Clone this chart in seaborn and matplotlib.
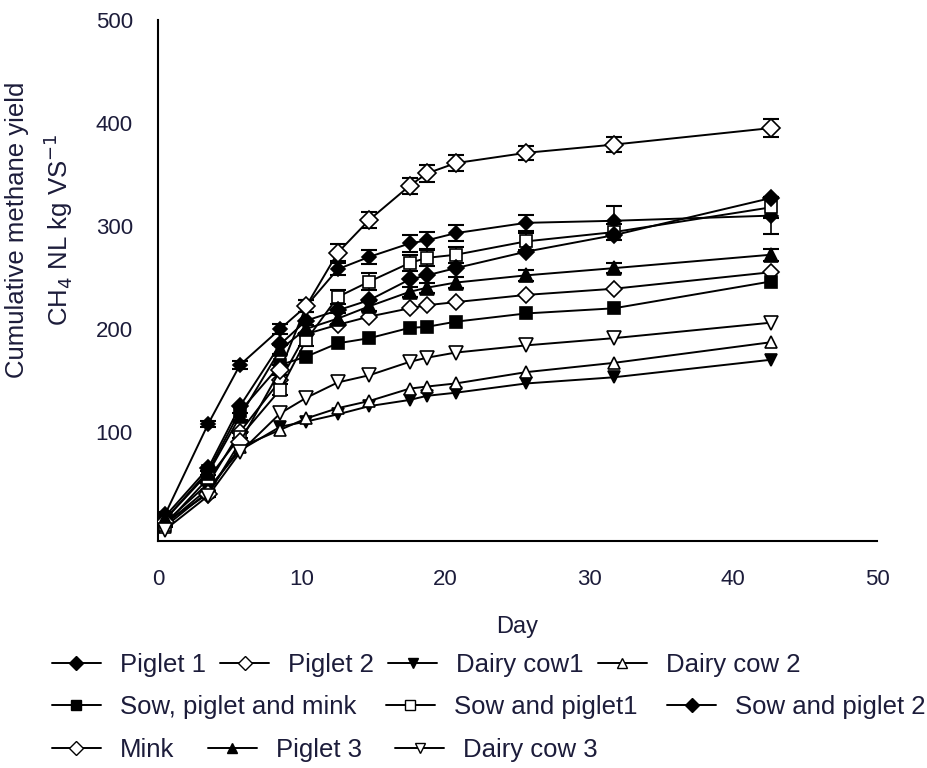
import matplotlib
matplotlib.use("Agg")
import matplotlib.pyplot as plt
from matplotlib.lines import Line2D
import seaborn as sns
import pandas as pd

sns.set_style("white")
plt.rcParams['font.family'] = ['Liberation Sans', 'DejaVu Sans']

days = [0.5, 3.5, 5.7, 8.5, 10.3, 12.5, 14.7, 17.5, 18.7, 20.7, 25.6, 31.7, 42.6]

piglet_1 = [20, 108, 165, 200, 222, 258, 270, 283, 286, 293, 303, 305, 310]
piglet_2 = [12, 50, 100, 150, 195, 204, 212, 220, 223, 226, 233, 239, 255]
dairy_cow_1 = [10, 45, 82, 105, 110, 117, 125, 131, 135, 138, 147, 153, 170]
dairy_cow_2 = [8, 42, 85, 102, 113, 123, 130, 142, 144, 147, 158, 167, 187]
sow_piglet_mink = [15, 62, 120, 165, 173, 186, 191, 201, 202, 207, 215, 220, 246]
sow_piglet_1 = [10, 55, 95, 141, 189, 231, 246, 264, 269, 272, 285, 294, 318]
sow_piglet_2 = [18, 65, 125, 185, 208, 218, 228, 248, 252, 259, 275, 291, 327]
mink = [12, 40, 90, 160, 222, 274, 306, 339, 351, 361, 371, 379, 395]
piglet_3 = [15, 60, 115, 180, 200, 210, 222, 236, 240, 245, 252, 259, 272]
dairy_cow_3 = [5, 38, 80, 118, 133, 148, 155, 168, 172, 177, 184, 191, 206]

mink_err = [2, 3, 4, 5, 6, 8, 8, 8, 8, 8, 7, 7, 9]
piglet_1_err = [2, 3, 4, 5, 6, 6, 7, 8, 8, 8, 8, 14, 18]
sow_piglet_1_err = [2, 3, 4, 5, 6, 7, 8, 8, 8, 8, 8, 8, 10]
piglet_3_err = [2, 2, 3, 4, 4, 5, 5, 5, 5, 5, 5, 5, 6]

labels = ["Piglet 1", "Piglet 2", "Dairy cow1", "Dairy cow 2",
          "Sow, piglet and mink", "Sow and piglet1", "Sow and piglet 2",
          "Mink", "Piglet 3", "Dairy cow 3"]
values = [piglet_1, piglet_2, dairy_cow_1, dairy_cow_2, sow_piglet_mink,
          sow_piglet_1, sow_piglet_2, mink, piglet_3, dairy_cow_3]
errors = {"Piglet 1": piglet_1_err, "Sow and piglet1": sow_piglet_1_err,
          "Mink": mink_err, "Piglet 3": piglet_3_err}

styles = {
    "Piglet 1": ("D", "black", 7),
    "Piglet 2": ("D", "white", 8),
    "Dairy cow1": ("v", "black", 9),
    "Dairy cow 2": ("^", "white", 9),
    "Sow, piglet and mink": ("s", "black", 8.5),
    "Sow and piglet1": ("s", "white", 8.5),
    "Sow and piglet 2": ("D", "black", 8),
    "Mink": ("D", "white", 9.5),
    "Piglet 3": ("^", "black", 9.5),
    "Dairy cow 3": ("v", "white", 9.5),
}

rows = []
for lab, vals in zip(labels, values):
    for d, v in zip(days, vals):
        rows.append({"Day": d, "value": v, "series": lab})
df = pd.DataFrame(rows)

fig = plt.figure(figsize=(9.28, 7.68), dpi=100)
ax = fig.add_axes([158/928, 1-541/768, (877-158)/928, (541-20)/768])

for lab in labels:
    m, fc, ms = styles[lab]
    sub = df[df.series == lab]
    if lab in errors:
        ax.errorbar(days, sub["value"].values, yerr=errors[lab], fmt="none",
                    ecolor="black", elinewidth=1.2, capsize=6, capthick=1.5, zorder=2)
    sns.lineplot(data=sub, x="Day", y="value", ax=ax, color="black", linewidth=1.4,
                 marker=m, markersize=ms, markerfacecolor=fc, markeredgecolor="black",
                 markeredgewidth=1.2, zorder=3, legend=False)

ax.set_xlim(0, 50)
ax.set_ylim(-6, 500)
ax.set_xticks([0, 10, 20, 30, 40, 50])
ax.set_yticks([100, 200, 300, 400, 500])
sns.despine(ax=ax)
for sp in ["left", "bottom"]:
    ax.spines[sp].set_linewidth(1.5)
    ax.spines[sp].set_color("black")
txtc = "#1c1c3a"
ax.tick_params(axis="both", direction="out", length=8, width=1.5, color="black",
               labelsize=16, labelcolor=txtc)
ax.tick_params(axis="y", pad=10)
ax.tick_params(axis="x", pad=12)
ax.set_xlabel("Day", fontsize=17, color=txtc, labelpad=19)
ax.set_ylabel("")
fig.text(40/928, 1-230/768, "Cumulative methane yield\nCH$_4$ NL kg VS$^{-1}$",
         rotation=90, ha="center", va="center", fontsize=18.5, color=txtc,
         multialignment="center", linespacing=1.45)

def handle(lab):
    m, fc, ms = styles[lab]
    return Line2D([], [], color="black", linewidth=1.4, marker=m, markersize=7,
                  markerfacecolor=fc, markeredgecolor="black", markeredgewidth=1.0)

row_defs = [
    (labels[0:4], 665, 0.55),
    (labels[4:7], 707, 1.15),
    (labels[7:10], 750, 1.3),
]
for labs, ypx, cs in row_defs:
    fig.legend([handle(l) for l in labs], labs, loc="center left",
               bbox_to_anchor=(52/928, 1-ypx/768), ncol=len(labs), frameon=False,
               fontsize=18.5, labelcolor=txtc, handlelength=1.9, handletextpad=0.75,
               columnspacing=cs, borderaxespad=0, borderpad=0)

fig.savefig("out.png", dpi=100)
